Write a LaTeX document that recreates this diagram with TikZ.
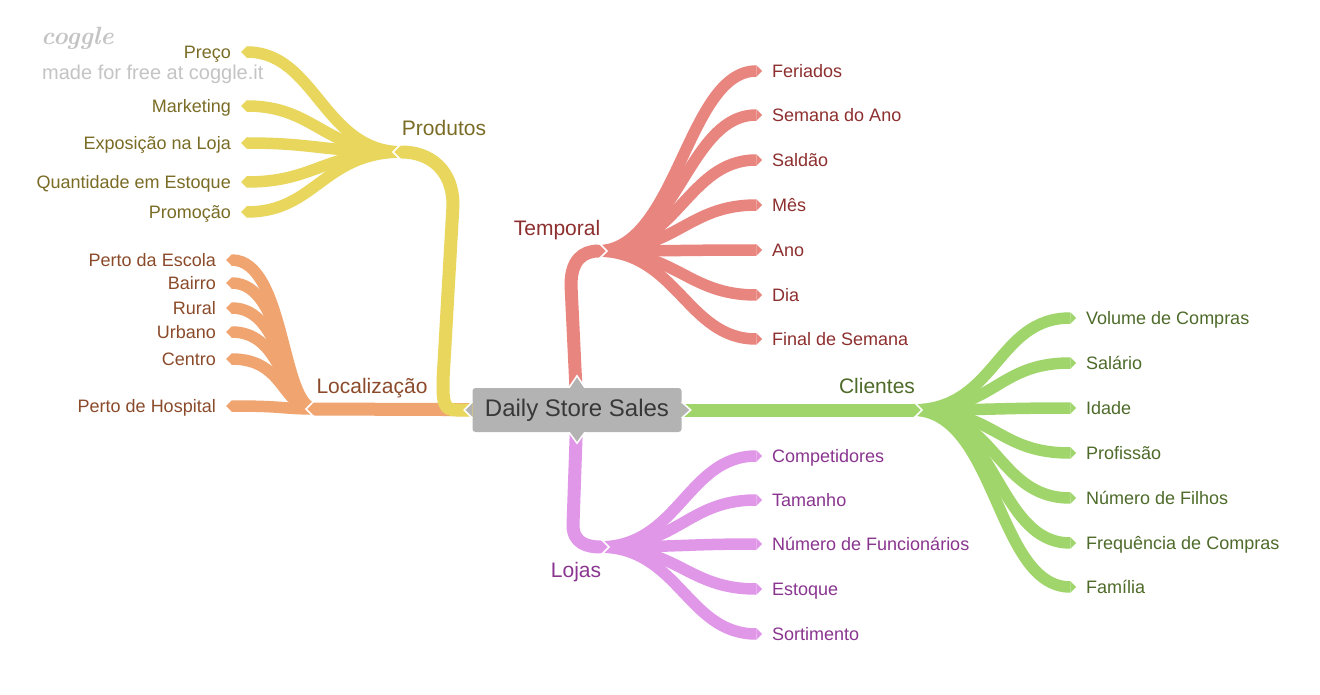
\documentclass[tikz,border=0pt]{standalone}
\usepackage{fontspec}
\newfontfamily\arial{Liberation Sans}
\usetikzlibrary{arrows.meta}
\usetikzlibrary{backgrounds}
\usetikzlibrary{positioning}
\usetikzlibrary{calc}
\definecolor{ylw}{HTML}{E9D65C}
\definecolor{ylwtxt}{HTML}{7A6C25}
\definecolor{org}{HTML}{F0A470}
\definecolor{orgtxt}{HTML}{8B4B2B}
\definecolor{rd}{HTML}{E8857F}
\definecolor{rdtxt}{HTML}{8E2F2F}
\definecolor{grn}{HTML}{9FD56B}
\definecolor{grntxt}{HTML}{4E6B2A}
\definecolor{vio}{HTML}{E097E8}
\definecolor{viotxt}{HTML}{8A3590}
\definecolor{rootgray}{HTML}{B3B3B3}
\definecolor{logogray}{HTML}{C4C4C4}
\newcommand{\notchright}[1]{\draw[notch] ([shift={(-8,-10)}]#1) -- ([shift={(2,0)}]#1) -- ([shift={(-8,10)}]#1);}
\newcommand{\notchleft}[1]{\draw[notch] ([shift={(8,-10)}]#1) -- ([shift={(-2,0)}]#1) -- ([shift={(8,10)}]#1);}

\begin{document}
\begin{tikzpicture}[x=1pt,y=-1pt,font=\arial,
	tip/.style={-{Triangle[length=0pt 0.5,width=0pt 1,line width=0pt]}},
	leaf/.style={inner xsep=10pt,inner ysep=0pt,text height=13pt,text depth=0pt,font=\arial\fontsize{18}{20}\selectfont},
	hublabel/.style={inner sep=0pt,text height=15pt,text depth=0pt,font=\arial\fontsize{21}{24}\selectfont},
	fan/.style={line width=11.5pt,tip},
	trunk/.style={line width=13pt,tip},
	notch/.style={white,line width=1.6pt,line join=miter},
	pointer/.style={fill=rootgray,draw=white,line width=1.5pt,line join=miter}]

\useasboundingbox (0,0) rectangle (1320,695);

\node (logo) at (41,38) [anchor=west,inner sep=0pt,text=logogray,font=\rmfamily\bfseries\itshape\fontsize{25}{27}\selectfont] {coggle};
\node (free) at (42,73) [anchor=west,inner sep=0pt,text height=14pt,text depth=0pt,text=logogray,font=\arial\fontsize{20}{22}\selectfont] {made for free at coggle.it};

\node (root) at (577,410) [minimum width=209pt,minimum height=44pt,rounded corners=3pt,fill=rootgray,text=black!78,font=\arial\fontsize{24}{28}\selectfont] {Daily Store Sales};
\filldraw[pointer] ([xshift=-8pt]root.north) -- ([yshift=12pt]root.north) -- ([xshift=8pt]root.north);
\filldraw[pointer] ([xshift=-8pt]root.south) -- ([yshift=-11pt]root.south) -- ([xshift=8pt]root.south);
\filldraw[pointer] ([yshift=8pt]root.west) -- ([xshift=-8pt]root.west) -- ([yshift=-8pt]root.west);
\filldraw[pointer] ([yshift=8pt]root.east) -- ([xshift=9pt]root.east) -- ([yshift=-8pt]root.east);

\coordinate (tmp) at (605,251);
\coordinate (ljs) at (607,547);
\coordinate (cli) at (920,410);
\coordinate (prd) at (395,152);
\coordinate (loc) at (308,409);

\node[hublabel,text=rdtxt] (temporal) at ($(tmp)+(-48,-23)$) {Temporal};
\node[hublabel,text=viotxt] (lojas) at ($(ljs)+(-31,23)$) {Lojas};
\node[hublabel,text=grntxt] (clientes) at ($(cli)+(-43,-24)$) {Clientes};
\node[hublabel,text=ylwtxt] (produtos) at ($(prd)+(49,-24)$) {Produtos};
\node[hublabel,text=orgtxt] (localizacao) at ($(loc)+(64,-23)$) {Localização};

\foreach \t/\y [count=\i] in {Feriados/71, Semana do Ano/115, Saldão/160, Mês/205, Ano/250, Dia/295, Final de Semana/339} {
\node[leaf,anchor=west,text=rdtxt] (t\i) at (762,\y) {\t};
}
\foreach \t/\y [count=\i] in {Competidores/456, Tamanho/500, Número de Funcionários/544, Estoque/589, Sortimento/634} {
\node[leaf,anchor=west,text=viotxt] (j\i) at (762,\y) {\t};
}
\foreach \t/\y [count=\i] in {Volume de Compras/318, Salário/363, Idade/408, Profissão/453, Número de Filhos/498, Frequência de Compras/543, Família/587} {
\node[leaf,anchor=west,text=grntxt] (k\i) at (1076,\y) {\t};
}
\foreach \t/\y [count=\i] in {Preço/52, Marketing/106, Exposição na Loja/143, Quantidade em Estoque/182, Promoção/212} {
\node[leaf,anchor=east,text=ylwtxt] (p\i) at (241,\y) {\t};
}
\foreach \t/\y [count=\i] in {Perto da Escola/260, Bairro/283, Rural/308, Urbano/332, Centro/359, Perto de Hospital/406} {
\node[leaf,anchor=east,text=orgtxt] (o\i) at (226,\y) {\t};
}

\begin{scope}[on background layer]
\fill[white] (0,0) rectangle (1320,695);
% fans
\foreach \i in {1,...,7} \draw[fan,rd] ([xshift=-8pt]tmp) .. controls +(80,0) and +(-75,0) .. (t\i.west);
\foreach \i in {1,...,5} \draw[fan,vio] ([xshift=-8pt]ljs) .. controls +(80,0) and +(-75,0) .. (j\i.west);
\foreach \i in {1,...,7} \draw[fan,grn] ([xshift=-8pt]cli) .. controls +(85,0) and +(-80,0) .. (k\i.west);
\foreach \i in {1,...,5} \draw[fan,ylw] ([xshift=8pt]prd) .. controls +(-80,0) and +(75,0) .. (p\i.east);
\foreach \i in {1,...,6} \draw[fan,org] ([xshift=8pt]loc) .. controls +(-35,0) and +(60,0) .. (o\i.east);
% trunks
\draw[trunk,org] (root.center) -- (loc);
\draw[trunk,ylw] (root.center) -- ++(-120,0) .. controls +(-14,0) and +(0,22) .. ++(-14,-30) -- ++(10,-175) .. controls +(0,-35) and +(35,0) .. (prd);
\draw[trunk,rd] (root.center) -- ++(-6,-125) .. controls +(0,-25) and +(-22,0) .. (tmp);
\draw[trunk,vio] (root.center) -- ++(-4,115) .. controls +(0,18) and +(-20,0) .. (ljs);
\draw[trunk,grn] (root.center) -- (cli);
\notchright{tmp}
\notchright{ljs}
\notchright{cli}
\notchleft{prd}
\notchleft{loc}
\end{scope}
\end{tikzpicture}
\end{document}
